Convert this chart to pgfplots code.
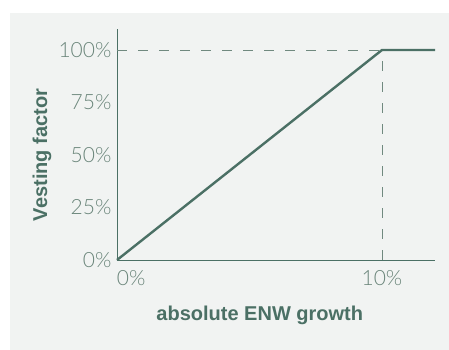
\documentclass[border=0pt]{standalone}
\usepackage{fontspec}
\setmainfont{Liberation Sans}
\newfontfamily\lightfont{Lato}[UprightFont={* Light}]
\usepackage{pgfplots}
\pgfplotsset{compat=1.18}
\definecolor{bgc}{HTML}{F1F3F2}
\definecolor{linec}{HTML}{4B7065}
\definecolor{textc}{HTML}{6A857A}
\definecolor{dashc}{HTML}{70897F}
\begin{document}
\begin{tikzpicture}
\path[use as bounding box] (-117pt,-90pt) rectangle (332pt,260pt);
\fill[bgc] (-107pt,-90pt) rectangle (332pt,247pt);
\begin{axis}[
  at={(0pt,0pt)}, anchor=south west,
  scale only axis, width=318pt, height=231pt,
  xmin=0, xmax=12, ymin=0, ymax=110,
  axis x line=bottom, axis y line=left,
  axis line style={draw=linec, line width=0.9pt, -},
  xtick={0,10}, xticklabels={\makebox[0pt][l]{0\%},10\%},
  ytick={0,25,50,75,100}, yticklabels={0\%,25\%,50\%,75\%,100\%},
  major tick length=0pt,
  tick label style={font=\lightfont\fontsize{21}{23}\selectfont, text=textc},
  yticklabel style={xshift=-2pt},
  xticklabel style={yshift=-7pt},
  /pgf/number format/assume math mode=true,
  xlabel={\textbf{absolute ENW growth}},
  ylabel={\textbf{Vesting factor}},
  label style={font=\fontsize{20}{22}\selectfont, text=linec},
  xlabel style={at={(axis description cs:0.449,-0.238)}, anchor=center},
  ylabel style={at={(axis description cs:-0.236,0.455)}, anchor=center, rotate=0},
  clip=false,
]
\addplot[dashc, line width=0.8pt, dash pattern=on 10pt off 11pt] coordinates {(0,100) (10,100)};
\addplot[dashc, line width=0.8pt, dash pattern=on 10pt off 11pt] coordinates {(10,0) (10,100)};
\addplot[linec, line width=2.4pt] coordinates {(0,0) (10,100) (12,100)};
\end{axis}
\end{tikzpicture}
\end{document}
